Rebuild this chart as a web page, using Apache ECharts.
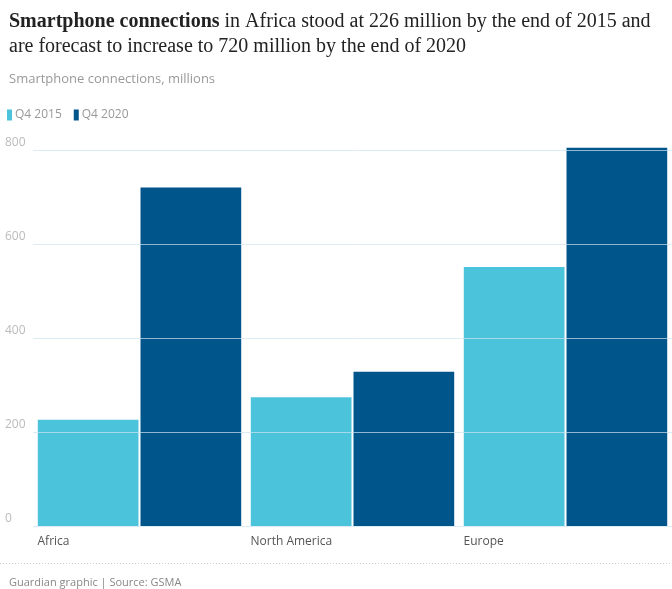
<!DOCTYPE html>
<html><head><meta charset="utf-8">
<script src="https://cdn.jsdelivr.net/npm/echarts@6/dist/echarts.min.js"></script>
<style>html,body{margin:0;padding:0;background:#fff}#c{width:672px;height:589px}</style>
</head><body><div id="c"></div>
<script>
const categories = ['Africa', 'North America', 'Europe'];
const q42015 = [226, 274, 551];
const q42020 = [720, 328, 805];
const seriesNames = ['Q4 2015', 'Q4 2020'];
const yTicks = [0, 200, 400, 600, 800];

const chart = echarts.init(document.getElementById('c'), null, {renderer: 'canvas'});
const sans = 'Open Sans, Lato, sans-serif';
chart.setOption({
  animation: false,
  color: ['#4bc3db', '#00558a'],
  title: [{
    left: 4, top: 4,
    text: '{b|Smartphone connections} {n|in Africa stood at 226 million by the end of 2015 and}\n{n|are forecast to increase to 720 million by the end of 2020}',
    textStyle: {
      fontWeight: 'normal',
      rich: {
        b: {fontFamily: 'Liberation Serif', fontWeight: 'bold', fontSize: 20, color: '#222', lineHeight: 25},
        n: {fontFamily: 'Liberation Serif', fontWeight: 'normal', fontSize: 20, color: '#222', lineHeight: 25}
      }
    }
  }, {
    left: 4, top: 68,
    text: 'Smartphone connections, millions',
    textStyle: {fontFamily: sans, fontSize: 13, fontWeight: 'normal', color: '#999'}
  }, {
    left: 4, top: 572,
    text: 'Guardian graphic | Source: GSMA',
    textStyle: {fontFamily: sans, fontSize: 11, fontWeight: 'normal', color: '#888'}
  }],
  legend: {
    left: 2, top: 104,
    itemWidth: 5, itemHeight: 11, itemGap: 12,
    icon: 'rect',
    textStyle: {fontFamily: sans, fontSize: 12, color: '#999', padding: [0, 0, 0, -2]},
    data: seriesNames
  },
  grid: {left: 33, right: 0, top: 150, bottom: 63},
  xAxis: {
    type: 'category', data: categories,
    axisLine: {show: false}, axisTick: {show: false},
    axisLabel: {
      margin: 10,
      formatter: v => '{a|' + v + '}',
      rich: {a: {width: 204, align: 'left', fontFamily: sans, fontSize: 12, color: '#555'}}
    }
  },
  yAxis: {
    type: 'value', min: 0, max: 800, interval: 200, z: 5,
    axisLine: {show: false}, axisTick: {show: false},
    splitLine: {lineStyle: {color: 'rgba(205,228,240,0.7)', width: 1}},
    axisLabel: {
      align: 'left', verticalAlign: 'bottom', margin: 28, padding: [0, 0, 1, 0],
      fontFamily: sans, fontSize: 12, color: '#bbb',
      formatter: v => yTicks.includes(v) ? String(v) : ''
    }
  },
  series: [
    {name: seriesNames[0], type: 'bar', data: q42015, barGap: '2%', barCategoryGap: '4.5%', clip: false},
    {name: seriesNames[1], type: 'bar', data: q42020, barGap: '2%', barCategoryGap: '4.5%', clip: false}
  ],
  graphic: [{
    type: 'line', shape: {x1: 0, y1: 563.5, x2: 672, y2: 563.5},
    style: {stroke: '#ccc', lineWidth: 1, lineDash: [1, 2]}
  }]
});
</script></body></html>
